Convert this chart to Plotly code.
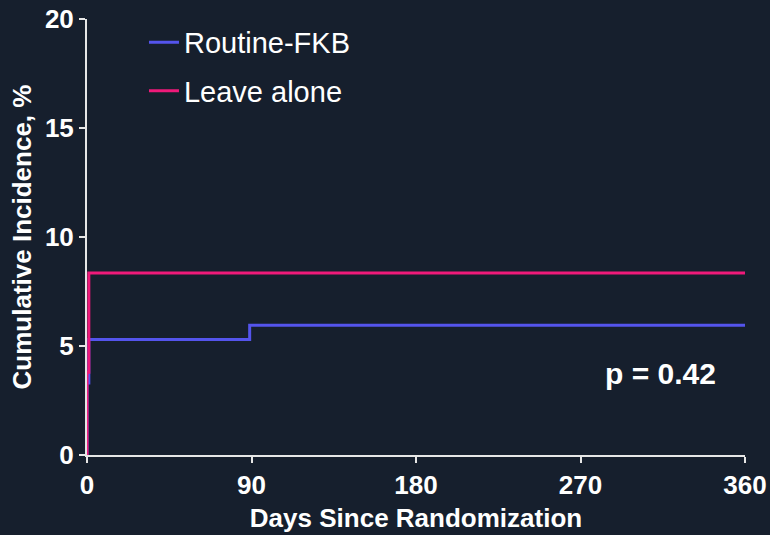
import plotly.graph_objects as go

# Data
routine_days = [0, 0, 1, 89, 360]
routine_inc = [0, 3.3, 5.3, 5.95, 5.95]
leave_days = [0, 0, 1, 360]
leave_inc = [0, 3.8, 8.35, 8.35]
x_ticks = [0, 90, 180, 270, 360]
y_ticks = [0, 5, 10, 15, 20]
p_text = "p = 0.42"

BG = "#161f2d"
AX = "#e6e6e6"
FONT = "Liberation Sans, Arial, sans-serif"

fig = go.Figure()
fig.add_trace(go.Scatter(x=routine_days, y=routine_inc, mode="lines", line_shape="hv",
                         line=dict(color="#5454ec", width=3), name="Routine-FKB",
                         legendgroup="a"))
fig.add_trace(go.Scatter(x=leave_days, y=leave_inc, mode="lines", line_shape="hv",
                         line=dict(color="#ef1a7a", width=3), name="Leave alone",
                         legendgroup="b"))

fig.add_annotation(x=314, y=3.75, text="<b>" + p_text + "</b>", showarrow=False,
                   font=dict(size=30, color="white", family=FONT))

fig.update_layout(
    width=770, height=535,
    paper_bgcolor=BG, plot_bgcolor=BG,
    margin=dict(l=87, r=25, t=19, b=80, autoexpand=False),
    font=dict(family=FONT, color="white"),
    showlegend=True,
    legend=dict(x=0.0866, y=1.005, xanchor="left", yanchor="top", bgcolor="rgba(0,0,0,0)",
                font=dict(size=29, color="white", family=FONT), itemwidth=30,
                tracegroupgap=8),
    xaxis=dict(range=[0, 360], tickvals=x_ticks, ticktext=[f"<b>{v}</b>" for v in x_ticks],
               automargin=False,
               showgrid=False, zeroline=False, showline=True, linecolor=AX, linewidth=2,
               ticks="outside", tickcolor=AX, ticklen=6, tickwidth=2,
               tickfont=dict(size=26, color="white", family=FONT),
               title=dict(text="<b>Days Since Randomization</b>", font=dict(size=26, color="white", family=FONT),
                          standoff=10)),
    yaxis=dict(range=[0, 20], tickvals=y_ticks, ticktext=[f"<b>{v}</b>" for v in y_ticks],
               automargin=False,
               showgrid=False, zeroline=False, showline=True, linecolor=AX, linewidth=2,
               ticks="outside", tickcolor=AX, ticklen=6, tickwidth=2,
               tickfont=dict(size=26, color="white", family=FONT),
               title=dict(text="<b>Cumulative Incidence, %</b>", font=dict(size=26, color="white", family=FONT),
                          standoff=6)),
)

fig.write_html("out.html", config={"displayModeBar": False},
               post_script="document.body.style.margin='0';document.body.style.background='#161f2d';")
